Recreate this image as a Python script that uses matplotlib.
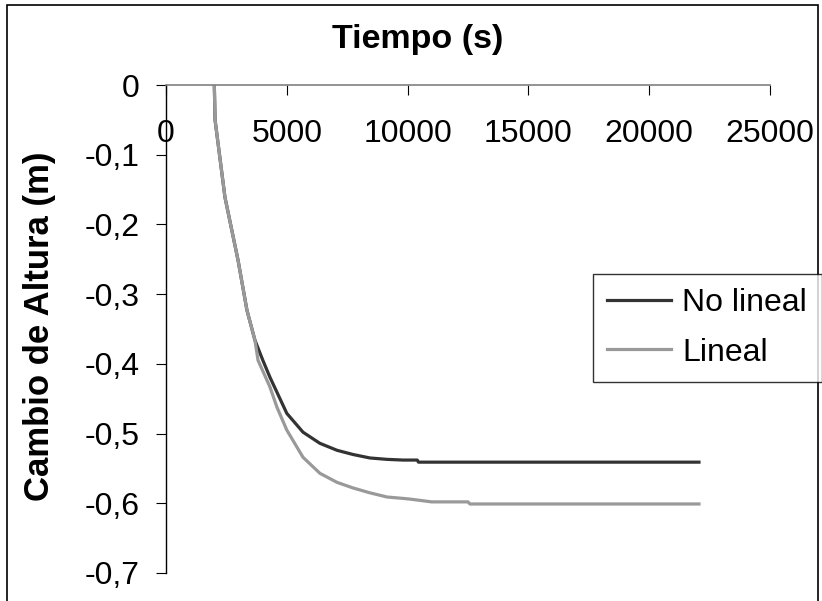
import matplotlib
matplotlib.use("Agg")
import matplotlib.pyplot as plt
from matplotlib.patches import Rectangle
from matplotlib.ticker import FuncFormatter

plt.rcParams['font.family'] = ['Liberation Sans', 'DejaVu Sans']

# tiempo (s) y cambio de altura (m)
t_nolineal = [2000, 2030, 2440, 2980, 3350, 3680, 4010, 4300, 5000, 5670,
              6370, 7080, 7740, 8440, 9150, 9810, 10400, 10450, 22060]
h_nolineal = [0, -0.05, -0.161, -0.251, -0.323, -0.366, -0.395, -0.419,
              -0.471, -0.498, -0.514, -0.524, -0.530, -0.535, -0.537,
              -0.538, -0.538, -0.541, -0.541]

t_lineal = [2000, 2030, 2440, 2980, 3350, 3680, 3810, 4300, 4590, 5000,
            5670, 6370, 7080, 7740, 8440, 9150, 9810, 10100, 11000, 12500,
            12580, 22060]
h_lineal = [0, -0.05, -0.161, -0.251, -0.323, -0.366, -0.395, -0.433,
            -0.462, -0.495, -0.534, -0.557, -0.570, -0.578, -0.585, -0.591,
            -0.593, -0.594, -0.598, -0.598, -0.601, -0.601]

x_ticks = [0, 5000, 10000, 15000, 20000, 25000]
y_ticks = [0, -0.1, -0.2, -0.3, -0.4, -0.5, -0.6, -0.7]

W, H = 822, 601
fig = plt.figure(figsize=(W / 100, H / 100), dpi=100)
ax = fig.add_axes([166 / W, 1 - 573 / H, (770 - 166) / W, (573 - 85) / H])

ax.plot(t_nolineal, h_nolineal, color='#333333', lw=2.3, label='No lineal')
ax.plot(t_lineal, h_lineal, color='#999999', lw=2.3, label='Lineal')

ax.set_xlim(0, 25000)
ax.set_ylim(-0.7, 0)
ax.set_xticks(x_ticks)
ax.set_yticks(y_ticks)
ax.yaxis.set_major_formatter(
    FuncFormatter(lambda v, p: ('%g' % round(v, 1)).replace('.', ',')))

# eje x arriba, marcas hacia dentro, etiquetas debajo de la linea
ax.xaxis.set_ticks_position('top')
ax.xaxis.set_label_position('top')
ax.tick_params(axis='x', direction='in', length=7, width=0.8,
               labelsize=23, pad=-46, colors='black')
ax.tick_params(axis='y', direction='out', length=7, width=0.8,
               labelsize=23, pad=12)
ax.spines['right'].set_visible(False)
ax.spines['bottom'].set_visible(False)
ax.spines['top'].set_color('#808080')
ax.spines['top'].set_linewidth(1.2)
ax.spines['left'].set_linewidth(1.0)

ax.set_xlabel('Tiempo (s)', fontsize=24.5, fontweight='bold', labelpad=0)
ax.xaxis.set_label_coords((418 - 166) / (770 - 166),
                          1 + (85 - 39) / (573 - 85))
ax.xaxis.label.set_va('center')
ax.set_ylabel('Cambio de Altura (m)', fontsize=25, fontweight='bold')
ax.yaxis.set_label_coords(-(166 - 40) / (770 - 166), 0.505)
ax.yaxis.label.set_va('center')

leg = fig.legend(loc='upper left', bbox_to_anchor=(593 / W, 1 - 274 / H),
                 fontsize=23, frameon=True, fancybox=False, edgecolor='black',
                 borderaxespad=0, handlelength=2.0, handletextpad=0.35,
                 labelspacing=0.6, borderpad=0.45)
leg.get_frame().set_linewidth(1.0)

# marco exterior del grafico
fig.patches.append(Rectangle((7 / W, -0.05), (818 - 7) / W, 1.05 - 5 / H,
                             transform=fig.transFigure, fill=False,
                             edgecolor='black', lw=1.2))

fig.savefig('out.png', dpi=100)
